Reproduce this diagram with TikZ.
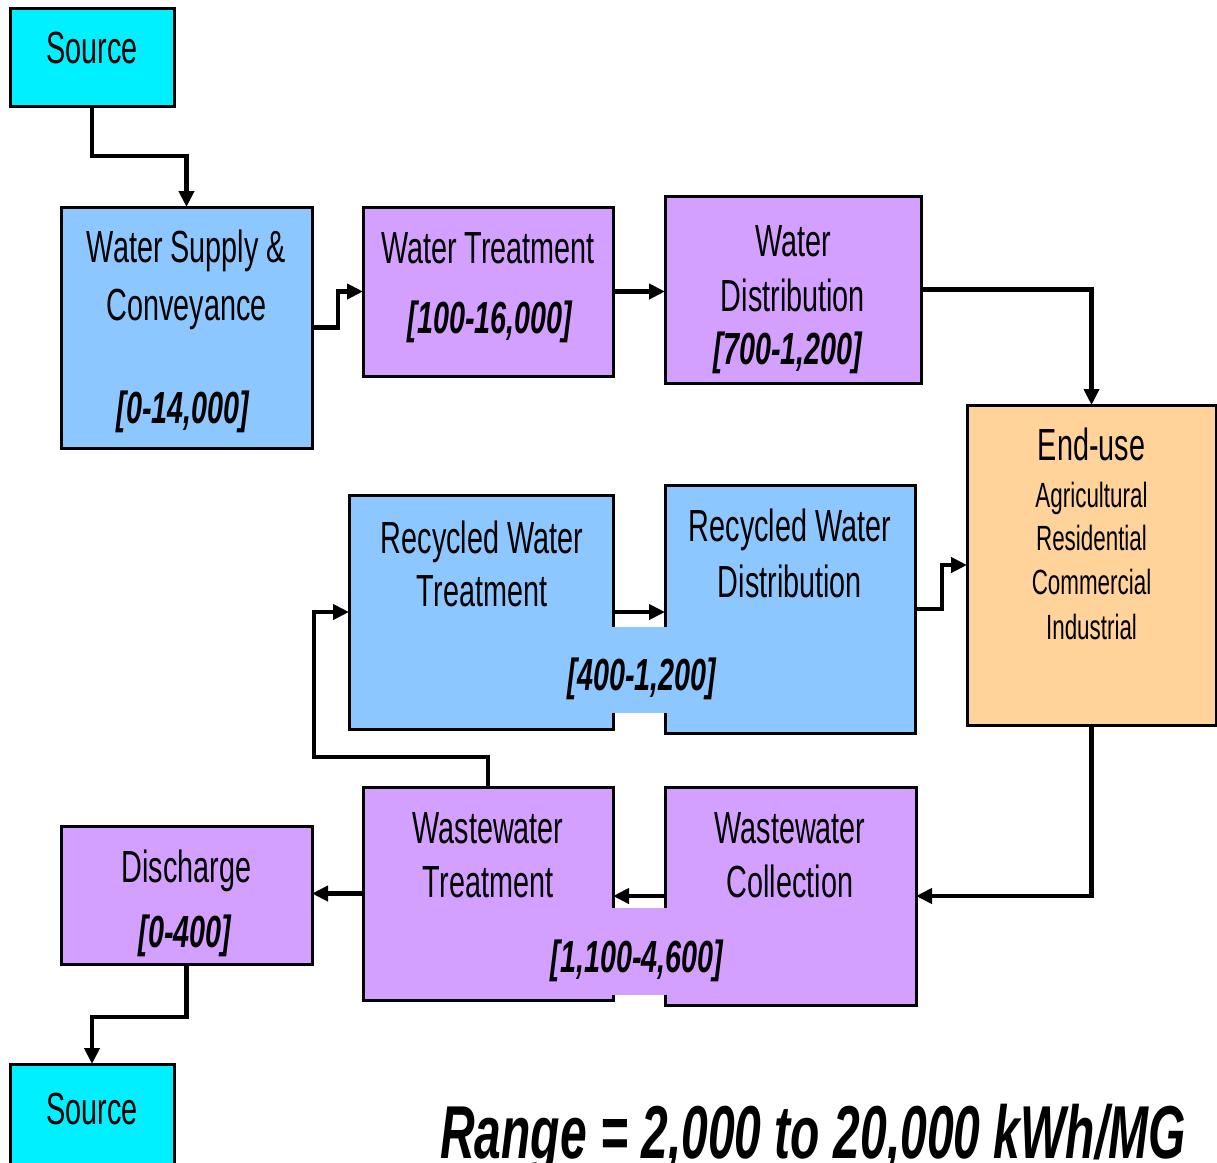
\documentclass[tikz,border=0pt]{standalone}
\usepackage{fontspec}
\setmainfont{Liberation Sans}[FakeStretch=0.64]
\usetikzlibrary{arrows.meta}
\definecolor{cyanbox}{RGB}{0,240,255}
\definecolor{bluebox}{RGB}{140,200,255}
\definecolor{purplebox}{RGB}{212,160,255}
\definecolor{peachbox}{RGB}{255,211,153}
\begin{document}
\begin{tikzpicture}[x=1pt,y=-1pt,
  box/.style={draw=black, line width=3pt, inner sep=0pt, outer sep=0pt},
  conn/.style={line width=4.5pt, -{Triangle[length=16pt,width=15pt]}},
  txt/.style={anchor=base, inner sep=0pt, font=\fontsize{45}{54}\selectfont},
  rng/.style={anchor=base, inner sep=0pt, font=\fontsize{45}{54}\selectfont\bfseries\itshape},
  small/.style={anchor=base, inner sep=0pt, font=\fontsize{35}{42}\selectfont}]
\useasboundingbox (0,0) rectangle (1217,1162);
\clip (0,0) rectangle (1217,1162);
\fill[white] (0,0) rectangle (1217,1162);
% boxes
\node[box, fill=cyanbox, minimum width=164pt, minimum height=98pt] (src1) at (92,57) {};
\node[box, fill=bluebox, minimum width=251pt, minimum height=241pt] (wsc) at (186.5,327.5) {};
\node[box, fill=purplebox, minimum width=250pt, minimum height=169pt] (wt) at (488,291.5) {};
\node[box, fill=purplebox, minimum width=256pt, minimum height=187pt] (wd) at (793,289.5) {};
\node[box, fill=peachbox, minimum width=249pt, minimum height=320pt] (eu) at (1091.5,565) {};
\node[box, fill=bluebox, minimum width=264pt, minimum height=234pt] (rwt) at (481,612) {};
\node[box, fill=bluebox, minimum width=250pt, minimum height=248pt] (rwd) at (790,609) {};
\node[box, fill=purplebox, minimum width=250pt, minimum height=213pt] (wwt) at (488,893.5) {};
\node[box, fill=purplebox, minimum width=251pt, minimum height=218pt] (wwc) at (790.5,896) {};
\node[box, fill=purplebox, minimum width=251pt, minimum height=138pt] (dis) at (186.5,895) {};
\node[box, fill=cyanbox, minimum width=164pt, minimum height=116pt] (src2) at (92,1122) {};
% label patches
\node[fill=bluebox, inner sep=0pt, minimum width=158pt, minimum height=86pt] (rpatch) at (639,670) {};
\node[fill=purplebox, inner sep=0pt, minimum width=158pt, minimum height=87pt] (wpatch) at (639,951.5) {};
% connectors
\draw[conn] (src1.south) -- ++(0,50) -| (wsc.north);
\draw[conn] (wsc.east) -- ++(26,0) |- (wt.west);
\draw[conn] (wt.east) -- (wt.east -| wd.west);
\draw[conn] (wd.east) -| (eu.north);
\draw[conn] (rwt.east) -- (rwt.east -| rwd.west);
\draw[conn] (rwd.east) -- ++(27,0) |- (eu.west);
\draw[conn] (eu.south) |- (wwc.east);
\draw[conn] (wwc.west) -- (wwc.west -| wwt.east);
\draw[conn] (wwt.west) -- (wwt.west -| dis.east);
\draw[conn] (dis.south) -- ++(0,53) -| (src2.north);
\coordinate (loop) at (314,757);
\draw[conn] (wwt.north) |- (loop) |- (rwt.west);
% texts
\node[txt] (t1) at (92,63) {Source};
\node[txt] (t2) at (186.5,262) {Water Supply \&};
\node[txt] (t3) at (186.5,320) {Conveyance};
\node[rng] (t4) at (183,423) {[0-14,000]};
\node[txt] (t5) at (488,263) {Water Treatment};
\node[rng] (t6) at (490,333) {[100-16,000]};
\node[txt] (t7) at (793,256) {Water};
\node[txt] (t8) at (793,311) {Distribution};
\node[rng] (t9) at (788,364) {[700-1,200]};
\node[txt] (t10) at (1091.5,460) {End-use};
\node[small] (t11) at (1091.5,507) {Agricultural};
\node[small] (t12) at (1091.5,550) {Residential};
\node[small] (t13) at (1091.5,594) {Commercial};
\node[small] (t14) at (1091.5,639) {Industrial};
\node[txt] (t15) at (482,553) {Recycled Water};
\node[txt] (t16) at (482,606) {Treatment};
\node[txt] (t17) at (790,541) {Recycled Water};
\node[txt] (t18) at (790,597) {Distribution};
\node[rng] (t19) at (642,690) {[400-1,200]};
\node[txt] (t20) at (488,843) {Wastewater};
\node[txt] (t21) at (488,897) {Treatment};
\node[txt] (t22) at (790,843) {Wastewater};
\node[txt] (t23) at (790,897) {Collection};
\node[rng] (t24) at (637,972) {[1,100-4,600]};
\node[txt] (t25) at (186.5,882) {Discharge};
\node[rng] (t26) at (185,947) {[0-400]};
\node[txt] (t27) at (92,1124) {Source};
\node[anchor=base, inner sep=0pt, font=\fontsize{75}{90}\selectfont\bfseries\itshape] (range) at (813,1158) {Range = 2,000 to 20,000 kWh/MG};
\end{tikzpicture}
\end{document}
